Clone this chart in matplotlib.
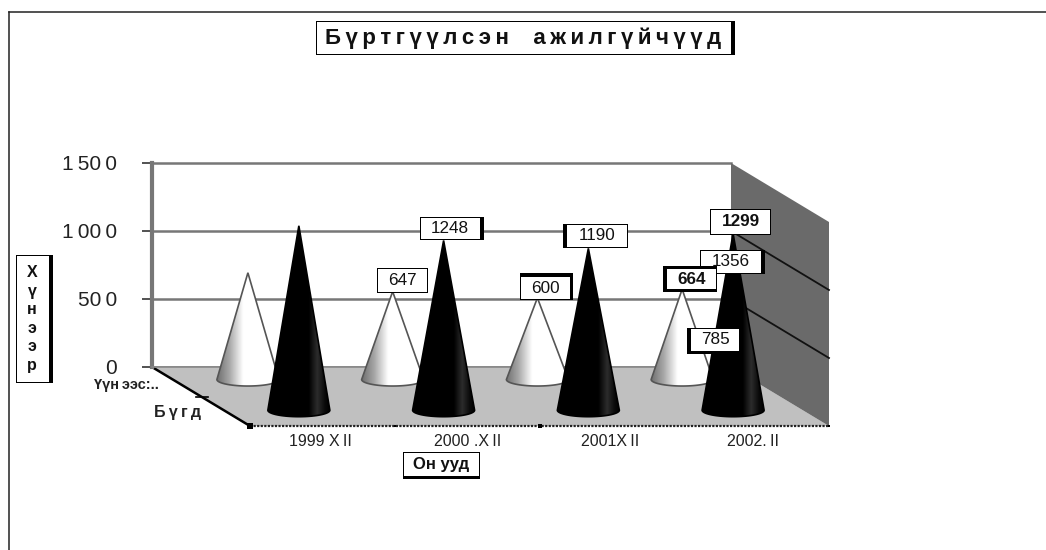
import numpy as np
import matplotlib
matplotlib.use("Agg")
import matplotlib.pyplot as plt
from matplotlib.patches import Polygon, Rectangle
from matplotlib.colors import LinearSegmentedColormap

plt.rcParams['font.family'] = ['Liberation Sans', 'DejaVu Sans']

W, H = 1046, 550
TS = "\u2009"  # the original text is set loosely, thin spaces get close to that

# data
categories = ["1999 X" + TS + "II", "2000 .X" + TS + "II", "2001X" + TS + "II", "2002." + TS + "II"]
vals_back = [785, 647, 600, 664]
vals_front = [1356, 1248, 1190, 1299]
series_names = ["Үүн" + TS + "ээс:..", TS.join("Бүгд")]
y_ticks = [0, 500, 1000, 1500]
y_tick_labels = ["0", "50" + TS + "0", "1" + TS + "00" + TS + "0", "1" + TS + "50" + TS + "0"]
title = TS.join("Бүртгүүлсэн") + "    " + TS.join("ажилгүйчүүд")
y_title = "Х\nү\nн\nэ\nэ\nр"
x_title = "Он ууд"

# dragged data labels: x0, y0, x1, y1 in pixels, then shadow widths (left, top, right, bottom)
label_back = [(687, 328, 740, 354, 4, 0, 0, 3), (377, 268, 428, 293, 0, 0, 0, 0),
              (520, 273, 573, 300, 0, 4, 3, 0), (663, 266, 717, 292, 4, 3, 0, 3)]
label_front = [(700, 250, 765, 274, 0, 0, 4, 0), (420, 217, 484, 240, 0, 0, 4, 0),
               (563, 224, 628, 248, 4, 0, 0, 0), (710, 209, 771, 235, 0, 0, 0, 0)]
bold_labels = [664, 1299]
cat_label_shift = [-2.4, 0, -1.4, -3.6]

# depth of the 3d box, in axis units
DX = 98 / 144.75
DY = 59 / 204 * 1500
DEPTH_BACK = 0.24
DEPTH_FRONT = 0.76
BASE_LIFT = 12

fig = plt.figure(figsize=(W / 100, H / 100), dpi=100, facecolor='white')
ax = fig.add_axes([152 / W, 1 - 367 / H, 579 / W, 204 / H])
ax.set_xlim(-0.5, 3.5)
ax.set_ylim(0, 1500)
ax.patch.set_alpha(0)
ax.set_xticks([])
ax.set_yticks(y_ticks)
ax.set_yticklabels(y_tick_labels, fontsize=15, color='#222222')
ax.tick_params(axis='y', length=7, width=1.2, color='#333333', pad=18)
ax.grid(axis='y', color='#777777', linewidth=1.8, clip_on=False)
ax.set_axisbelow(True)
for s in ['top', 'right']:
    ax.spines[s].set_visible(False)
ax.spines['left'].set_color('#777777')
ax.spines['left'].set_linewidth(3)
ax.spines['bottom'].set_color('#888888')
ax.spines['bottom'].set_linewidth(1.2)


def depth_pt(x, y, d):
    return (x + d * DX, y - d * DY)


x0, x1 = -0.5, 3.5
# floor and side wall
ax.add_patch(Polygon([depth_pt(x0, 0, 0), depth_pt(x1, 0, 0), depth_pt(x1, 0, 1), depth_pt(x0, 0, 1)],
                     facecolor='#c0c0c0', edgecolor='none', clip_on=False, zorder=1))
ax.add_patch(Polygon([depth_pt(x1, 0, 0), depth_pt(x1, 1500, 0), depth_pt(x1, 1500, 1), depth_pt(x1, 0, 1)],
                     facecolor='#6a6a6a', edgecolor='none', clip_on=False, zorder=1))
for t in y_ticks[1:-1]:
    a, b = depth_pt(x1, t, 0), depth_pt(x1, t, 1)
    ax.plot([a[0], b[0]], [a[1], b[1]], color='#111111', lw=1.3, clip_on=False, zorder=2)

# depth axis and front edge
a, b = depth_pt(x0, 0, 0), depth_pt(x0, 0, 1)
ax.plot([a[0], b[0]], [a[1], b[1]], color='black', lw=1.8, clip_on=False, zorder=2)
a, b = depth_pt(x0, 0, 1), depth_pt(x1, 0, 1)
ax.plot([a[0], b[0]], [a[1], b[1]], color='#222222', lw=1.6, ls=(0, (1, 0.6)), clip_on=False, zorder=2)
a = depth_pt(x0, 0, 0.5)
ax.plot([a[0] - 0.035, a[0] + 0.045], [a[1], a[1]], color='black', lw=1.2, clip_on=False, zorder=2)
for xm, ms in [(-0.5, 4), (1.5, 3.5), (0.5, 2), (3.5, 2)]:
    a = depth_pt(xm, 0, 1)
    ax.plot([a[0]], [a[1]], 's', color='black', ms=ms, mew=0, clip_on=False, zorder=2)

cmap_white = LinearSegmentedColormap.from_list('w', [(0, '#6f6f6f'), (0.2, '#a8a8a8'), (0.42, '#ffffff'), (1, '#ffffff')])
cmap_black = LinearSegmentedColormap.from_list('b', [(0, '#000000'), (0.66, '#000000'), (0.8, '#2c2c2c'), (0.92, '#0a0a0a'), (1, '#000000')])
grad = np.linspace(0, 1, 128).reshape(1, -1)

HALF_W = 31 / 144.75
ELL_H = 6.5 / 204 * 1500


def cone(i, val, d, cmap, edge, z):
    cx, base = depth_pt(i, 0, d)
    base += BASE_LIFT
    t = np.linspace(np.pi * 1.0, np.pi * 2.0, 40)
    ex = cx + HALF_W * np.cos(t)
    ey = base + ELL_H * np.sin(t)
    pts = [(cx, base + val)] + list(zip(ex, ey))
    poly = Polygon(pts, closed=True, facecolor='none', edgecolor=edge, lw=1.2, clip_on=False, zorder=z + 0.1)
    ax.add_patch(poly)
    im = ax.imshow(grad, cmap=cmap, aspect='auto', zorder=z,
                   extent=[cx - HALF_W, cx + HALF_W, base - ELL_H, base + val])
    im.set_clip_path(poly)
    im.set_clip_box(fig.bbox)


for i, v in enumerate(vals_back):
    cone(i, v, DEPTH_BACK, cmap_white, '#555555', 3)
for i, v in enumerate(vals_front):
    cone(i, v, DEPTH_FRONT, cmap_black, '#000000', 4)
ax.set_xlim(-0.5, 3.5)
ax.set_ylim(0, 1500)

# category labels under the front edge
for i, c in enumerate(categories):
    ax.annotate(c, xy=depth_pt(i, 0, 1), xytext=(cat_label_shift[i] * 0.72, -11.5), textcoords='offset points',
                ha='center', va='center', fontsize=11.5, color='#222222', annotation_clip=False)


# everything below is placed in pixels
def box(x0, y0, x1, y1, left=0, top=0, right=0, bottom=0, z=10):
    tr = fig.transFigure
    fig.add_artist(Rectangle((x0 / W, 1 - y1 / H), (x1 - x0) / W, (y1 - y0) / H, transform=tr,
                             facecolor='black', edgecolor='none', zorder=z))
    fig.add_artist(Rectangle(((x0 + max(left, 1.4)) / W, 1 - (y1 - max(bottom, 1.4)) / H),
                             (x1 - x0 - max(left, 1.4) - max(right, 1.4)) / W,
                             (y1 - y0 - max(top, 1.4) - max(bottom, 1.4)) / H, transform=tr,
                             facecolor='white', edgecolor='none', zorder=z + 0.1))


def box_text(x, y, s, z=10, **kw):
    fig.text(x / W, 1 - y / H, s, ha='center', va='center', zorder=z + 0.2, **kw)


def value_label(val, pos, z):
    bx0, by0, bx1, by1, l, t, r, b = pos
    box(bx0, by0, bx1, by1, l, t, r, b, z=z)
    weight = 'bold' if val in bold_labels else 'normal'
    box_text((bx0 + bx1 + l - r) / 2, (by0 + by1 + t - b) / 2, str(val), z=z, fontsize=12.3,
             fontweight=weight, color='#111111')


order = [(vals_front, label_front), (vals_back, label_back)]
z = 10
for vals, poss in order:
    for v, p in zip(vals, poss):
        value_label(v, p, z)
        z += 1

# frame around the chart area
fig.add_artist(plt.Line2D([8.5 / W, 8.5 / W], [0, 1 - 11.5 / H], color='#222222', lw=1.1, transform=fig.transFigure))
fig.add_artist(plt.Line2D([8.5 / W, 1], [1 - 11.5 / H, 1 - 11.5 / H], color='#222222', lw=1.1, transform=fig.transFigure))

# title boxes
box(316, 21, 735, 55, right=4)
box_text(523, 38, title, fontsize=16, fontweight='bold', color='#111111')
box(16, 255, 53, 383, right=4)
box_text(32, 319, y_title, fontsize=11.5, fontweight='bold', color='#111111', linespacing=1.3)
box(403, 452, 480, 479, bottom=3)
box_text(441, 465, x_title, fontsize=12, fontweight='bold', color='#111111')

# series labels on the depth axis
fig.text(126 / W, 1 - 385 / H, series_names[0], ha='center', va='center', fontsize=10.5, fontweight='bold', color='#222222')
fig.text(178 / W, 1 - 412 / H, series_names[1], ha='center', va='center', fontsize=11.5, fontweight='bold', color='#222222')

fig.savefig("out.png", dpi=100)
